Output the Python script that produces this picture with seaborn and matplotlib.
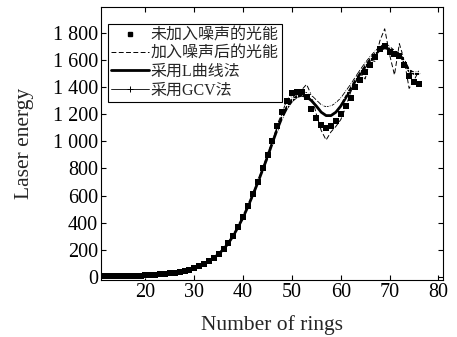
import numpy as np
import pandas as pd
import matplotlib
matplotlib.use("Agg")
import matplotlib.pyplot as plt
from matplotlib.ticker import FuncFormatter
from matplotlib.lines import Line2D
import seaborn as sns

rings = list(range(11, 77))

clean_energy = [5, 5, 6, 6, 7, 8, 9, 10, 11, 13,
                15, 17, 20, 23, 27, 32, 38, 45, 54, 65,
                78, 95, 115, 140, 170, 205, 250, 305, 370, 440,
                520, 610, 700, 800, 900, 1000, 1110, 1220, 1300, 1355,
                1365, 1365, 1330, 1240, 1170, 1120, 1095, 1110, 1150, 1200,
                1260, 1320, 1400, 1450, 1510, 1560, 1620, 1680, 1705, 1660,
                1645, 1630, 1560, 1480, 1440, 1420]

noisy_energy = [8, 3, 9, 4, 10, 6, 12, 8, 14, 11,
                18, 14, 23, 20, 30, 29, 41, 43, 57, 62,
                82, 92, 120, 136, 176, 200, 258, 300, 378, 432,
                530, 600, 712, 790, 915, 990, 1125, 1210, 1310, 1340,
                1350, 1380, 1420, 1340, 1200, 1080, 1010, 1070, 1110, 1160,
                1250, 1360, 1440, 1500, 1460, 1600, 1590, 1740, 1830, 1640,
                1490, 1720, 1600, 1390, 1450, 1520]

lcurve_energy = [5, 5, 6, 6, 7, 8, 9, 10, 11, 13,
                 15, 17, 20, 23, 27, 32, 38, 45, 54, 65,
                 78, 95, 115, 140, 170, 205, 250, 305, 370, 440,
                 520, 605, 695, 790, 885, 990, 1090, 1180, 1250, 1300,
                 1330, 1340, 1330, 1300, 1260, 1215, 1190, 1190, 1215, 1260,
                 1320, 1385, 1445, 1500, 1550, 1600, 1640, 1675, 1690, 1680,
                 1660, 1640, 1590, 1520, 1500, 1500]

gcv_energy = [5, 5, 6, 6, 7, 8, 9, 10, 11, 13,
              15, 17, 20, 23, 27, 32, 38, 45, 54, 65,
              78, 95, 115, 140, 170, 205, 252, 308, 374, 446,
              528, 615, 705, 800, 895, 1000, 1100, 1190, 1265, 1320,
              1350, 1365, 1360, 1340, 1305, 1270, 1255, 1260, 1285, 1320,
              1370, 1420, 1475, 1530, 1580, 1625, 1665, 1700, 1720, 1700,
              1670, 1650, 1600, 1530, 1510, 1510]

labels = ["未加入噪声的光能", "加入噪声后的光能", "采用L曲线法", "采用GCV法"]
x_ticks = [20, 30, 40, 50, 60, 70, 80]
y_ticks = [0, 200, 400, 600, 800, 1000, 1200, 1400, 1600, 1800]

df = pd.DataFrame({"rings": rings, "clean": clean_energy, "noisy": noisy_energy,
                   "lcurve": lcurve_energy, "gcv": gcv_energy})

sns.set_style("ticks")
plt.rcParams["font.family"] = ["Liberation Serif", "Noto Sans CJK SC"]
plt.rcParams["axes.unicode_minus"] = False

fig = plt.figure(figsize=(4.57, 3.37), dpi=100)
ax = fig.add_axes([0.220, 0.168, 0.750, 0.811])

DASH = [5, 2.5]
sns.lineplot(data=df, x="rings", y="noisy", ax=ax, color="black", lw=0.7)
ax.lines[-1].set_dashes(DASH)
sns.lineplot(data=df, x="rings", y="lcurve", ax=ax, color="black", lw=2.0)
sns.lineplot(data=df, x="rings", y="gcv", ax=ax, color="black", lw=0.6,
             marker="+", markersize=4, markeredgewidth=0.6)
sns.scatterplot(data=df, x="rings", y="clean", ax=ax, color="black", marker="s",
                s=13, linewidth=0, zorder=5)

ax.set_xlim(10.8, 81)
ax.set_ylim(-25, 1990)
ax.set_xticks(x_ticks)
ax.set_yticks(y_ticks)
ax.yaxis.set_major_formatter(FuncFormatter(lambda v, p: f"{int(v):,}".replace(",", " ")))
ax.tick_params(direction="in", top=True, right=True, length=3.5, width=0.8,
               labelsize=14.5, pad=2, colors="black")
for s in ax.spines.values():
    s.set_color("black")
    s.set_linewidth(0.8)
ax.set_xlabel("Number of rings", fontsize=15.5, labelpad=9)
ax.set_ylabel("Laser energy", fontsize=15.5, labelpad=13)

handles = [
    Line2D([], [], color="black", marker="s", markersize=3.5, linestyle="none"),
    Line2D([], [], color="black", lw=0.7, dashes=DASH),
    Line2D([], [], color="black", lw=2.0),
    Line2D([], [], color="black", lw=0.6, marker="+", markersize=5, markeredgewidth=0.7),
]
leg = ax.legend(handles, labels,
                loc="upper left", bbox_to_anchor=(0.021, 0.938), borderaxespad=0,
                fontsize=11.5, frameon=True, fancybox=False, edgecolor="black",
                framealpha=1, handlelength=2.4, handletextpad=0.1,
                labelspacing=0.15, borderpad=0.2, markerscale=1.0)
leg.get_frame().set_linewidth(0.8)

fig.savefig("out.png", dpi=100)
